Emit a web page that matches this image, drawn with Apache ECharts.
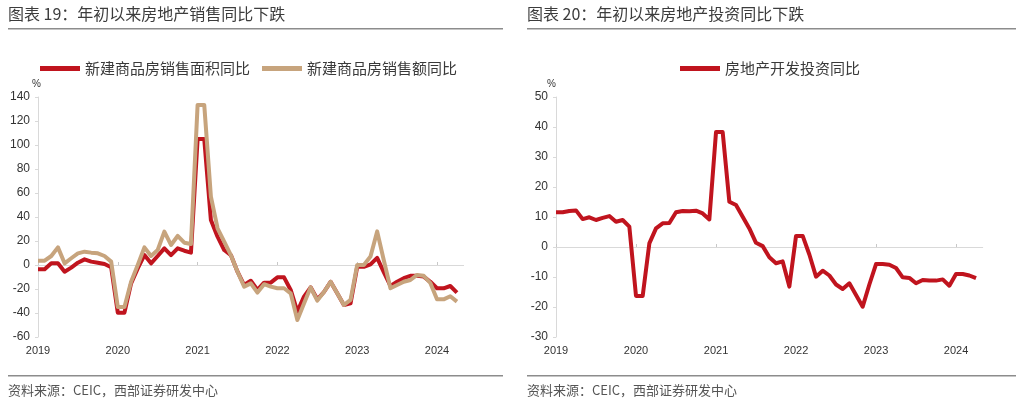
<!DOCTYPE html>
<html>
<head>
<meta charset="utf-8">
<script src="https://cdn.jsdelivr.net/npm/echarts/dist/echarts.min.js"></script>
<style>
html,body{margin:0;padding:0;background:#fff;}
#main{width:1024px;height:404px;}
</style>
</head>
<body>
<div id="main"></div>
<script>
// ---- data ----
const yearLabels = ['2019', '2020', '2021', '2022', '2023', '2024'];
const monthLabels = ['01','02','03','04','05','06','07','08','09','10','11','12'];
const lastMonthCount = 5; // axis runs through 2024-05

// 新建商品房销售面积同比 (%), monthly 2019-01 .. 2024-04
const salesArea = [
  -3.6, -3.6, 1.4, 1.4, -5.6, -2.2, 1.9, 4.7, 2.8, 1.9, 0.8, -1.9,
  -39.7, -39.7, -15.3, -2.8, 8.3, 1.4, 7.5, 13.9, 8.3, 13.9, 11.9, 10.3,
  104.9, 104.9, 37.5, 23.6, 12.5, 8.3, -5.6, -16.7, -13.1, -20.8, -14.7, -14.7,
  -10.3, -10.3, -20.8, -38.9, -26.4, -18.6, -28.6, -22.5, -14.0, -23.6, -33.3, -32.0,
  -1.5, -1.5, 0.5, 6.0, -6.0, -17.5, -14.0, -11.0, -9.0, -9.0, -9.7, -14.0,
  -19.4, -19.4, -17.5, -23.0
];
// 新建商品房销售额同比 (%)
const salesValue = [
  3.6, 3.6, 7.5, 14.7, 1.4, 5.6, 9.7, 11.1, 10.3, 9.7, 7.5, 2.8,
  -35.0, -35.0, -13.9, 0.0, 14.7, 7.5, 12.5, 27.8, 16.7, 24.2, 18.6, 17.5,
  133.4, 133.4, 57.0, 30.6, 19.4, 8.3, -5.6, -18.0, -15.3, -23.0, -16.0, -18.0,
  -19.4, -19.4, -23.6, -45.8, -32.0, -18.6, -29.7, -22.5, -14.0, -23.6, -33.3, -29.0,
  0.0, 0.0, 7.0, 28.0, 4.0, -19.4, -16.7, -14.0, -12.5, -8.3, -9.0, -15.0,
  -28.6, -28.6, -26.0, -30.5
];
// 房地产开发投资同比 (%)
const investment = [
  11.6, 11.6, 12.0, 12.2, 9.3, 9.9, 9.0, 9.7, 10.3, 8.4, 9.0, 6.8,
  -16.3, -16.3, 1.2, 6.2, 7.9, 8.0, 11.6, 12.0, 11.9, 12.1, 11.2, 9.2,
  38.3, 38.3, 15.1, 14.0, 10.1, 6.2, 1.4, 0.3, -3.4, -5.4, -4.8, -13.2,
  3.7, 3.7, -2.5, -9.9, -7.9, -9.5, -12.5, -14.0, -12.1, -16.0, -19.9, -12.5,
  -5.7, -5.7, -5.9, -7.0, -10.1, -10.3, -12.1, -11.0, -11.2, -11.2, -10.8, -12.9,
  -9.0, -9.0, -9.5, -10.4
];

const categories = [];
yearLabels.forEach(function (y, yi) {
  const n = (yi === yearLabels.length - 1) ? lastMonthCount : 12;
  for (let m = 0; m < n; m++) categories.push(y + '-' + monthLabels[m]);
});

// ---- style ----
const RED = '#C0141E';
const TAN = '#C7A47D';
const AXIS = '#d9d9d9';
const TXT = '#333333';
const CJK = '"Noto Sans CJK SC", "Noto Sans", sans-serif';
const LAT = '"Liberation Sans", Arial, sans-serif';

const yearTick = function (idx) { return idx % 12 === 0; };

function zeroAxis(grid) {
  return {
    type: 'category', gridIndex: grid, data: categories, boundaryGap: false,
    axisLine: { show: true, onZero: true, lineStyle: { color: AXIS, width: 1 } },
    axisTick: { show: true, inside: true, length: 3, interval: yearTick, lineStyle: { color: '#c8c8c8' } },
    axisLabel: { show: false }, splitLine: { show: false }
  };
}
function labelAxis(grid) {
  return {
    type: 'category', gridIndex: grid, data: categories, boundaryGap: false, position: 'bottom',
    axisLine: { show: false, onZero: false }, axisTick: { show: false },
    axisLabel: {
      interval: yearTick, margin: 8, fontSize: 11, color: TXT, fontFamily: LAT,
      formatter: function (v) { return v.slice(0, 4); }
    },
    splitLine: { show: false }
  };
}
function valueAxis(grid, min, max, step) {
  return {
    type: 'value', gridIndex: grid, min: min, max: max, interval: step,
    axisLine: { show: true, lineStyle: { color: AXIS } },
    axisTick: { show: true, length: 3, lineStyle: { color: AXIS } },
    axisLabel: { fontSize: 12, color: TXT, fontFamily: LAT, margin: 8 },
    splitLine: { show: false }
  };
}
function legendAt(name, left) {
  return {
    data: [name], left: left, top: 61, padding: 0, icon: 'rect', itemWidth: 40, itemHeight: 5, itemGap: 10,
    textStyle: { fontSize: 15, color: '#3a3a3a', fontFamily: CJK }
  };
}
function lineSeries(name, data, color, xi, yi) {
  return {
    name: name, type: 'line', data: data, xAxisIndex: xi, yAxisIndex: yi,
    showSymbol: false, symbol: 'none', smooth: false,
    lineStyle: { width: 4, color: color, join: 'round' }, itemStyle: { color: color }
  };
}

const titleStyle = { fontSize: 16, fontWeight: 'normal', color: '#3c3c3c', fontFamily: CJK };
const sourceText = '资料来源：CEIC，西部证券研发中心';

const option = {
  animation: false,
  backgroundColor: '#ffffff',
  title: [
    { text: '图表 19：年初以来房地产销售同比下跌', left: 3, top: 1, textStyle: titleStyle },
    { text: '图表 20：年初以来房地产投资同比下跌', left: 522, top: 1, textStyle: titleStyle }
  ],
  graphic: [
    { type: 'rect', left: 8, top: 28, shape: { width: 495, height: 1.6 }, style: { fill: '#8c8c8c' } },
    { type: 'rect', left: 527, top: 28, shape: { width: 489, height: 1.6 }, style: { fill: '#8c8c8c' } },
    { type: 'rect', left: 8, top: 375, shape: { width: 495, height: 1.4 }, style: { fill: '#8c8c8c' } },
    { type: 'rect', left: 527, top: 375, shape: { width: 489, height: 1.4 }, style: { fill: '#8c8c8c' } },
    { type: 'text', left: 8, top: 384, style: { text: sourceText, fontSize: 13, fill: '#555', fontFamily: CJK } },
    { type: 'text', left: 527, top: 384, style: { text: sourceText, fontSize: 13, fill: '#555', fontFamily: CJK } },
    { type: 'text', left: 32, top: 79, style: { text: '%', fontSize: 10, fill: TXT, fontFamily: LAT } },
    { type: 'text', left: 547, top: 79, style: { text: '%', fontSize: 10, fill: TXT, fontFamily: LAT } }
  ],
  legend: [
    legendAt('新建商品房销售面积同比', 40),
    legendAt('新建商品房销售额同比', 262),
    legendAt('房地产开发投资同比', 680)
  ],
  grid: [
    { left: 38, top: 97, width: 425.6, height: 240 },
    { left: 556, top: 97, width: 426.7, height: 240 }
  ],
  xAxis: [zeroAxis(0), labelAxis(0), zeroAxis(1), labelAxis(1)],
  yAxis: [valueAxis(0, -60, 140, 20), valueAxis(1, -30, 50, 10)],
  series: [
    lineSeries('新建商品房销售面积同比', salesArea, RED, 0, 0),
    lineSeries('新建商品房销售额同比', salesValue, TAN, 0, 0),
    lineSeries('房地产开发投资同比', investment, RED, 2, 1)
  ]
};

const chart = echarts.init(document.getElementById('main'), null, { renderer: 'canvas' });
chart.setOption(option);
</script>
</body>
</html>
